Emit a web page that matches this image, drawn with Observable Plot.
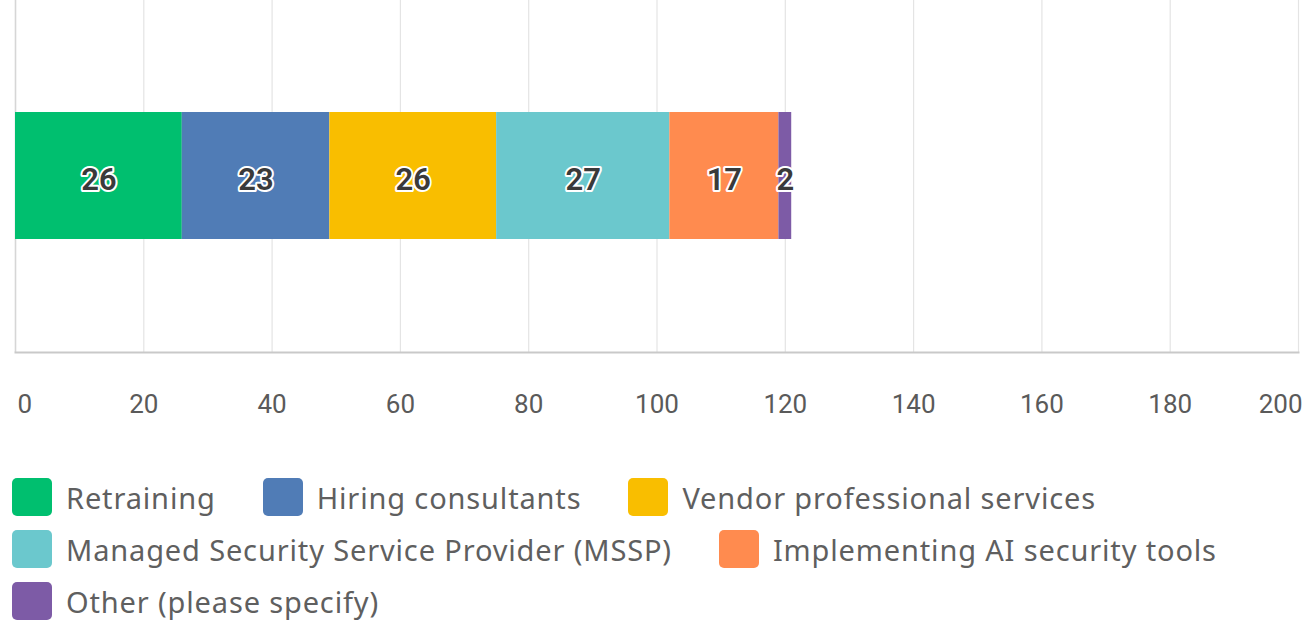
<!DOCTYPE html>
<html>
<head>
<meta charset="utf-8">
<script src="https://cdn.jsdelivr.net/npm/d3@7"></script>
<script src="https://cdn.jsdelivr.net/npm/@observablehq/plot@0.6"></script>
<style>
  html, body { margin: 0; padding: 0; background: #fff; }
  #chart svg { display: block; }
  .legend { display: flex; flex-wrap: wrap; width: 1290px; padding: 26px 0 0 12px;
            font-family: "Noto Sans", sans-serif; font-size: 29px; letter-spacing: 0.85px; color: #5f5f5f; }
  .item { display: flex; align-items: center; height: 52px; margin-right: 47px; }
  .sw { width: 40px; height: 38px; border-radius: 5px; margin-right: 14px; }
</style>
</head>
<body>
<div id="chart"></div>
<div class="legend" id="legend"></div>
<script>
const categories = ["Retraining", "Hiring consultants", "Vendor professional services",
  "Managed Security Service Provider (MSSP)", "Implementing AI security tools", "Other (please specify)"];
const values = [26, 23, 26, 27, 17, 2];
const colors = ["#00bf6f", "#507cb6", "#f9be00", "#6bc8cd", "#ff8b4f", "#7d5ba6"];
const ticks = [0, 20, 40, 60, 80, 100, 120, 140, 160, 180, 200];

const data = categories.map((c, i) => ({category: c, value: values[i], row: "all"}));
const font = "Roboto, 'Noto Sans', sans-serif";

const plot = Plot.plot({
  width: 1310,
  height: 445,
  marginLeft: 15,
  marginRight: 12,
  marginTop: 0,
  marginBottom: 93,
  style: {fontFamily: font, background: "#fff", overflow: "visible"},
  x: {domain: [0, 200], axis: null},
  y: {axis: null, padding: 0.467},
  color: {domain: categories, range: colors},
  marks: [
    Plot.gridX(ticks, {stroke: "#e4e4e4", strokeOpacity: 1, strokeWidth: 1.2}),
    Plot.ruleX([0], {stroke: "#d6d6d6", strokeWidth: 1.5}),
    Plot.frame({anchor: "bottom", stroke: "#c9c9c9", strokeWidth: 2}),
    Plot.barX(data, Plot.stackX({x: "value", y: "row", fill: "category", order: null})),
    Plot.text(data, Plot.stackX({x: "value", y: "row", text: "value", order: null, dy: 4,
      fill: "#3a3a3a", stroke: "white", strokeWidth: 4, fontSize: 31, fontWeight: 600})),
    Plot.text(ticks, {x: d => d, text: d => String(d), frameAnchor: "bottom", dy: 60,
      textAnchor: "middle", fontSize: 26, fill: "#5a5a5a",
      filter: d => d !== 0 && d !== 200}),
    Plot.text([0], {x: d => d, text: d => String(d), frameAnchor: "bottom", dy: 60,
      textAnchor: "start", dx: 2, fontSize: 26, fill: "#5a5a5a"}),
    Plot.text([200], {x: d => d, text: d => String(d), frameAnchor: "bottom", dy: 60,
      textAnchor: "end", dx: 4, fontSize: 26, fill: "#5a5a5a"})
  ]
});
document.getElementById("chart").append(plot);

const legend = document.getElementById("legend");
categories.forEach((c, i) => {
  const item = document.createElement("div");
  item.className = "item";
  const sw = document.createElement("div");
  sw.className = "sw";
  sw.style.background = colors[i];
  const label = document.createElement("span");
  label.textContent = c;
  item.append(sw, label);
  legend.append(item);
});
</script>
</body>
</html>
